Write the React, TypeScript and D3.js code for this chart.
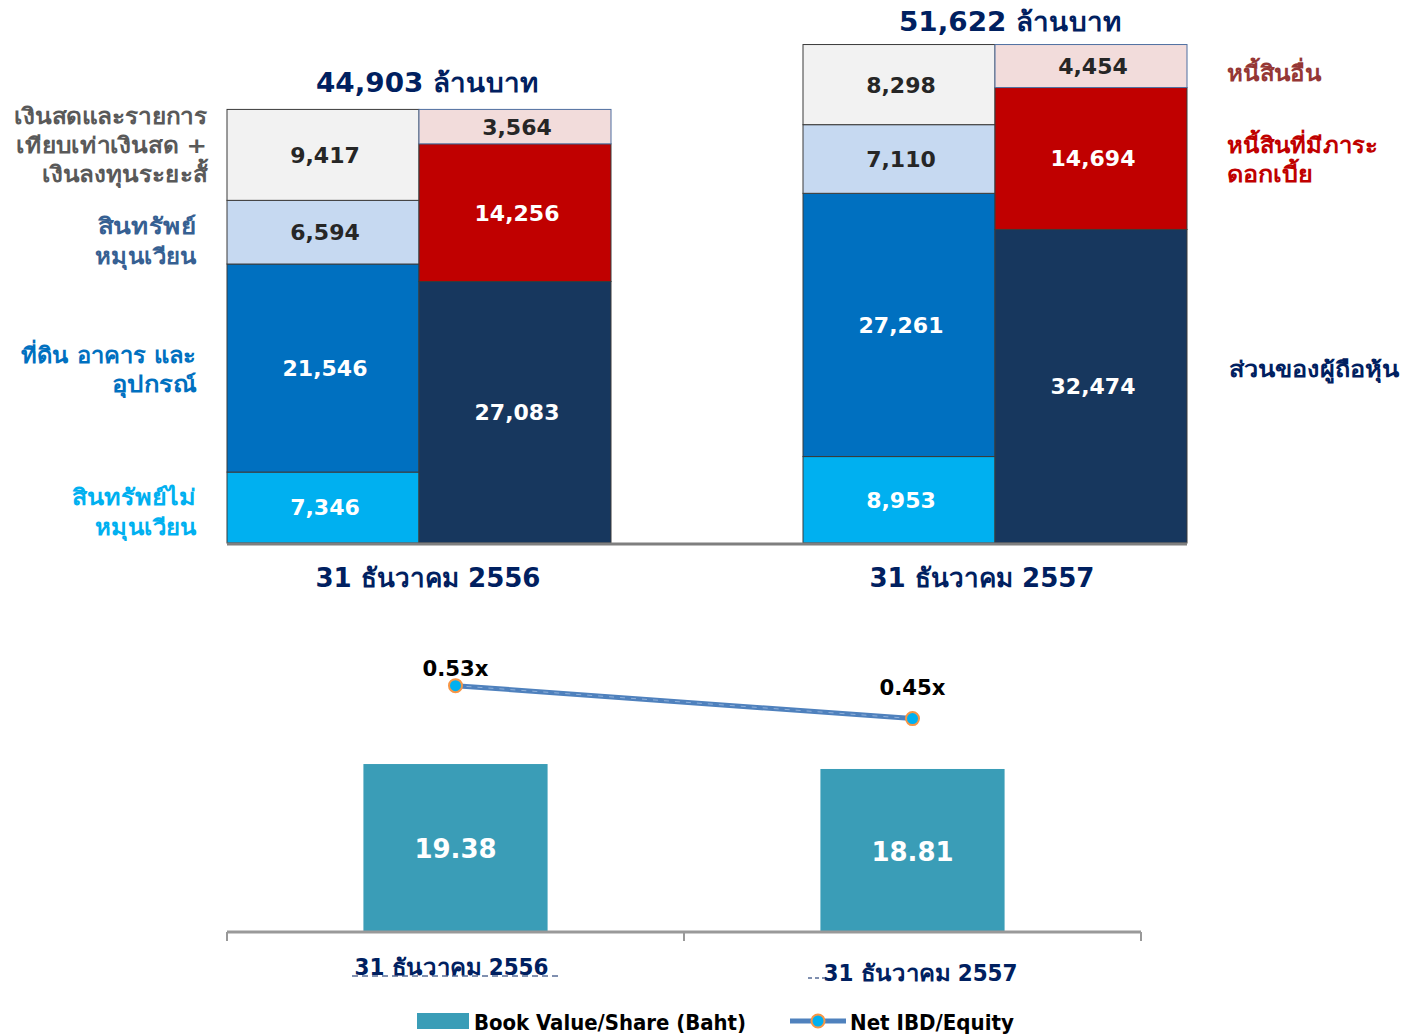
import React from 'react';
import * as d3 from 'd3';

const years = ['31 ธันวาคม 2556', '31 ธันวาคม 2557'];
const nonCurrentAssets = [7346, 8953];
const ppe = [21546, 27261];
const currentAssets = [6594, 7110];
const cash = [9417, 8298];
const equity = [27083, 32474];
const ibd = [14256, 14694];
const otherLiab = [3564, 4454];
const totals = [44903, 51622];
const bookValue = [19.38, 18.81];
const netIbdEquity = [0.53, 0.45];

const assetSeries = [
  { key: 'nca', label: ['สินทรัพย์ไม่', 'หมุนเวียน'], widths: [124, 101], values: nonCurrentAssets, fill: '#00B0F0', text: '#FFFFFF', labelColor: '#00B0F0' },
  { key: 'ppe', label: ['ที่ดิน อาคาร และ', 'อุปกรณ์'], widths: [175, 84], values: ppe, fill: '#0070C0', text: '#FFFFFF', labelColor: '#0070C0' },
  { key: 'ca', label: ['สินทรัพย์', 'หมุนเวียน'], widths: [98, 101], values: currentAssets, fill: '#C6D9F1', text: '#262626', labelColor: '#366092' },
  { key: 'cash', label: ['เงินสดและรายการ', 'เทียบเท่าเงินสด +', 'เงินลงทุนระยะสั้'], widths: [193, 191, 165], values: cash, fill: '#F2F2F2', text: '#262626', labelColor: '#595959' },
];
const liabSeries = [
  { key: 'eq', label: ['ส่วนของผู้ถือหุ้น'], widths: [170], values: equity, fill: '#17375E', text: '#FFFFFF', labelColor: '#002060' },
  { key: 'ibd', label: ['หนี้สินที่มีภาระ', 'ดอกเบี้ย'], widths: [151, 86], values: ibd, fill: '#C00000', text: '#FFFFFF', labelColor: '#C00000' },
  { key: 'ol', label: ['หนี้สินอื่น'], widths: [94], values: otherLiab, fill: '#F2DCDB', text: '#262626', labelColor: '#953735' },
];

const FONT = "Tahoma, 'DejaVu Sans', 'Noto Sans', sans-serif";
const COND = "'DejaVu Sans Condensed', Tahoma, sans-serif";

export default function App() {
  const W = 1404, H = 1036;
  const x = d3.scaleBand<string>().domain(years).range([227, 1187]).paddingInner(1 / 3).paddingOuter(0);
  const half = d3.scaleBand<string>().domain(['a', 'l']).range([0, x.bandwidth()]).padding(0);
  const y = d3.scaleLinear().domain([0, 50000]).range([543, 60.2]);

  const stackA = d3.stack<number>().keys(assetSeries.map((_, i) => String(i))).value((d, k) => assetSeries[+k].values[d])(years.map((_, i) => i));
  const stackL = d3.stack<number>().keys(liabSeries.map((_, i) => String(i))).value((d, k) => liabSeries[+k].values[d])(years.map((_, i) => i));

  const xb = d3.scaleBand<string>().domain(years).range([227, 1141]).paddingInner(0.597).paddingOuter(0.2985);
  const yb = d3.scaleLinear().domain([0, 30]).range([932, 672]);
  const yr = d3.scaleLinear().domain([0, 0.6]).range([904, 656.8]);
  const line = d3.line<number>().x((_, i) => xb(years[i])! + xb.bandwidth() / 2).y(d => yr(d));

  const leftLabelY = [
    [497, 527],
    [355, 384],
    [226, 256],
    [116, 145, 174],
  ];
  const rightLabelY = [[369], [145, 174], [73]];
  const totalOffsetX = [8, 15];
  const totalOffsetY = [-17, -14];
  const catOffsetX = [9, -13];
  const pctLabelDy = [-10, -24];

  return (
    <svg width={W} height={H} style={{ position: 'absolute', left: 0, top: 0, background: '#fff' }} fontFamily={FONT}>
      {stackA.map((layer, si) => (
        <g key={'a' + si}>
          {layer.map((d, i) => {
            const x0 = x(years[i])! + half('a')!;
            const y0 = y(d[1]), y1 = y(d[0]);
            return (
              <g key={i}>
                <rect x={x0} y={y0} width={half.bandwidth()} height={y1 - y0} fill={assetSeries[si].fill} stroke="#3a3a3a" strokeWidth={1} />
                <text x={x0 + half.bandwidth() / 2 + 2} y={(y0 + y1) / 2} dy="0.36em" textAnchor="middle" fontSize={22} fontWeight="bold" fill={assetSeries[si].text}>
                  {d3.format(',')(assetSeries[si].values[i])}
                </text>
              </g>
            );
          })}
        </g>
      ))}
      {stackL.map((layer, si) => (
        <g key={'l' + si}>
          {layer.map((d, i) => {
            const x0 = x(years[i])! + half('l')!;
            const y0 = y(d[1]), y1 = y(d[0]);
            return (
              <g key={i}>
                <rect x={x0} y={y0} width={half.bandwidth()} height={y1 - y0} fill={liabSeries[si].fill} stroke={si === 2 ? '#4F6FA0' : '#3a3a3a'} strokeWidth={1} />
                <text x={x0 + half.bandwidth() / 2 + 2} y={(y0 + y1) / 2} dy="0.36em" textAnchor="middle" fontSize={22} fontWeight="bold" fill={liabSeries[si].text}>
                  {d3.format(',')(liabSeries[si].values[i])}
                </text>
              </g>
            );
          })}
        </g>
      ))}
      <line x1={227} x2={1187} y1={544} y2={544} stroke="#7f7f7f" strokeWidth={3} />
      {totals.map((t, i) => (
        <text key={'t' + i} x={x(years[i])! + x.bandwidth() / 2 + totalOffsetX[i]} y={y(t) + totalOffsetY[i]} textAnchor="middle" fontSize={26} fontWeight="bold" fill="#002060" textLength={222} lengthAdjust="spacingAndGlyphs">
          {d3.format(',')(t) + ' ล้านบาท'}
        </text>
      ))}
      {years.map((yr_, i) => (
        <text key={'c' + i} x={x(years[i])! + x.bandwidth() / 2 + catOffsetX[i]} y={587} textAnchor="middle" fontSize={26} fontWeight="bold" fill="#002060" textLength={225} lengthAdjust="spacingAndGlyphs">{yr_}</text>
      ))}
      {assetSeries.map((s, si) => (
        <text key={'ll' + si} textAnchor="end" fontSize={22} fontWeight="bold" fill={s.labelColor}>
          {s.label.map((ln, li) => (
            <tspan key={li} x={si === 3 ? 207 : 196} y={leftLabelY[si][li] + 8} textLength={s.widths[li]} lengthAdjust="spacingAndGlyphs">{ln}</tspan>
          ))}
        </text>
      ))}
      {liabSeries.map((s, si) => (
        <text key={'rl' + si} textAnchor="start" fontSize={22} fontWeight="bold" fill={s.labelColor}>
          {s.label.map((ln, li) => (
            <tspan key={li} x={si === 0 ? 1229 : 1227} y={rightLabelY[si][li] + 8} textLength={s.widths[li]} lengthAdjust="spacingAndGlyphs">{ln}</tspan>
          ))}
        </text>
      ))}

      {/* bottom chart */}
      {bookValue.map((v, i) => (
        <g key={'bv' + i}>
          <rect x={xb(years[i])!} y={yb(v)} width={xb.bandwidth()} height={yb(0) - yb(v)} fill="#3A9DB7" />
          <text x={xb(years[i])! + xb.bandwidth() / 2} y={(yb(v) + yb(0)) / 2 + 1} dy="0.36em" textAnchor="middle" fontSize={26} fontWeight="bold" fill="#FFFFFF">{v.toFixed(2)}</text>
        </g>
      ))}
      <line x1={227} x2={1141} y1={932} y2={932} stroke="#999" strokeWidth={3} />
      {[227, 684, 1141].map((t, i) => (
        <line key={'tk' + i} x1={t} x2={t} y1={932} y2={941} stroke="#999" strokeWidth={2} />
      ))}
      <path d={line(netIbdEquity)!} fill="none" stroke="#4F81BD" strokeWidth={5} />
      <path d={line(netIbdEquity)!} fill="none" stroke="#8FB0DA" strokeWidth={1} strokeDasharray="5 6" />
      {netIbdEquity.map((v, i) => {
        const cx = xb(years[i])! + xb.bandwidth() / 2;
        return (
          <g key={'m' + i}>
            <circle cx={cx} cy={yr(v)} r={6.5} fill="#00B0F0" stroke="#F79646" strokeWidth={2} />
            <text x={cx} y={yr(v) + pctLabelDy[i]} textAnchor="middle" fontSize={22} fontWeight="bold" fill="#000" fontFamily={COND} textLength={66} lengthAdjust="spacingAndGlyphs">{v.toFixed(2) + 'x'}</text>
          </g>
        );
      })}
      {years.map((yr_, i) => (
        <text key={'bc' + i} x={xb(years[i])! + xb.bandwidth() / 2 + (i === 0 ? -4 : 8)} y={i === 0 ? 975 : 981} textAnchor="middle" fontSize={23} fontWeight="bold" fill="#002060" fontFamily={COND} textLength={194} lengthAdjust="spacingAndGlyphs">{yr_}</text>
      ))}
      <line x1={352} x2={558} y1={976} y2={976} stroke="#002060" strokeWidth={1} strokeDasharray="6 4" />
      <line x1={808} x2={828} y1={978} y2={978} stroke="#002060" strokeWidth={1} strokeDasharray="4 3" />
      <rect x={417} y={1013} width={52} height={16} fill="#3A9DB7" />
      <text x={474} y={1030} fontSize={22} fontWeight="bold" fill="#000" fontFamily={COND} textLength={272} lengthAdjust="spacingAndGlyphs">Book Value/Share (Baht)</text>
      <line x1={790} x2={846} y1={1021} y2={1021} stroke="#4F81BD" strokeWidth={5} />
      <circle cx={818} cy={1021} r={6.5} fill="#00B0F0" stroke="#F79646" strokeWidth={2} />
      <text x={850} y={1030} fontSize={22} fontWeight="bold" fill="#000" fontFamily={COND} textLength={164} lengthAdjust="spacingAndGlyphs">Net IBD/Equity</text>
    </svg>
  );
}
